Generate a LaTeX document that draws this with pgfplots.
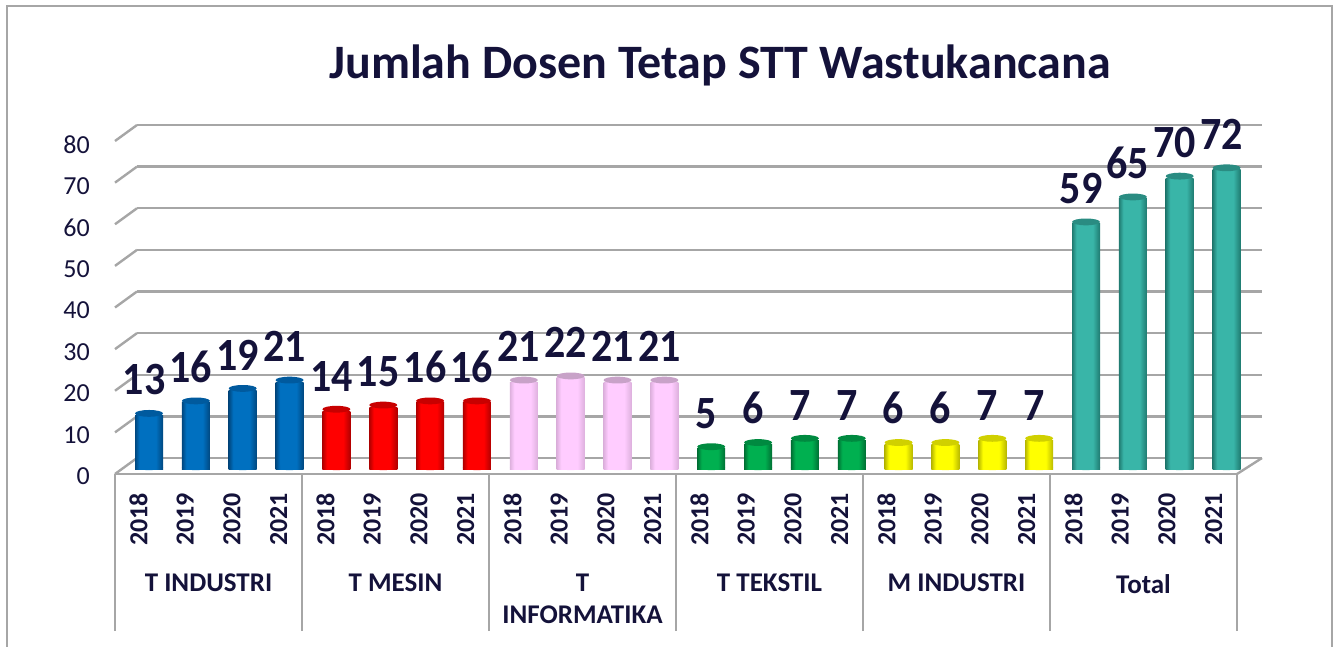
\documentclass[border=0pt]{standalone}
\usepackage{fontspec}
\setmainfont{Carlito}
\usepackage{pgfplots}
\pgfplotsset{compat=1.18}

\definecolor{ink}{HTML}{14123A}
\definecolor{wall}{HTML}{A6A6A6}

% name, edge colour, body colour, cap colour
\newcommand{\defcyl}[4]{%
  \definecolor{edge#1}{HTML}{#2}%
  \definecolor{body#1}{HTML}{#3}%
  \definecolor{cap#1}{HTML}{#4}%
  \pgfdeclarehorizontalshading{cyl#1}{100bp}{%
    color(0bp)=(edge#1); color(25bp)=(edge#1); color(33bp)=(body#1);
    color(62bp)=(body#1); color(75bp)=(edge#1); color(100bp)=(edge#1)}%
  \pgfdeclareplotmark{base#1}{\shade[draw=none,shading=cyl#1,rotate=8] (0,0) ellipse (14pt and 2.6pt);}%
  \pgfdeclareplotmark{top#1}{\fill[draw=none,fill=cap#1,rotate=8] (0,0) ellipse (14pt and 3.4pt);}%
}
\defcyl{blue}{00477F}{0070C0}{005A9E}
\defcyl{red}{B00000}{FF0000}{C80000}
\defcyl{pink}{DDB0DD}{FFCCFF}{C8A2C8}
\defcyl{green}{006E33}{00B050}{008A40}
\defcyl{yellow}{B8B800}{FFFF00}{D0D000}
\defcyl{teal}{1F7A70}{39B5A8}{2A8C82}

% colour name, x, value: one cylinder
\newcommand{\cyl}[3]{%
  \addplot[only marks,mark=base#1] coordinates {(#2,0)};
  \addplot[ybar,bar width=28pt,bar shift=0pt,draw=none,shading=cyl#1,yshift=-2pt] coordinates {(#2,#3)};
  \addplot[only marks,mark=top#1,nodes near coords={\bfseries\pgfmathprintnumber[assume math mode=true]{\pgfplotspointmeta}},
    every node near coord/.append style={font=\fontsize{42}{42}\selectfont,text=ink,anchor=south,yshift=18pt,xshift=-5pt,yscale=1.1,inner sep=0pt}]
    coordinates {(#2,#3)};
}

\begin{document}
\begin{tikzpicture}[x=1pt,y=1pt]
\path[use as bounding box] (0,0) rectangle (1333,646);

% outer frame
\draw[wall,line width=2.5pt] (7,-2) -- (7,640) -- (1332,640) -- (1332,-2);

% back wall
\begin{axis}[
  at={(137pt,188pt)},anchor=south west,
  scale only axis,width=1125pt,height=333pt,
  xmin=0,xmax=1,ymin=0,ymax=80,
  ytick={0,10,...,80},xtick=\empty,yticklabels={},
  ymajorgrids,grid style={wall,line width=2.4pt},
  axis line style={draw=none},major tick length=0pt,clip=false]
  \addplot[draw=none] coordinates {(0,0) (1,80)};
  \pgfplotsinvokeforeach{0,10,...,80}{
    \draw[wall,line width=2.4pt] (axis cs:0,#1) -- ++(-22pt,-16pt);
  }
  \draw[wall,line width=2.4pt] (axis cs:1,0) -- ++(-25pt,-16pt);
\end{axis}

% front: value labels, floor edge, year and group labels
\begin{axis}[
  at={(115pt,172pt)},anchor=south west,
  scale only axis,width=1122pt,height=332pt,
  xmin=0,xmax=24,ymin=0,ymax=80,
  ytick={0,10,...,80},
  axis y line*=left,axis x line*=bottom,
  y axis line style={draw=none},
  x axis line style={wall,line width=2.6pt,-},
  xtick={0.5,1.5,...,23.5},
  xticklabels={2018,2019,2020,2021,2018,2019,2020,2021,2018,2019,2020,2021,
    2018,2019,2020,2021,2018,2019,2020,2021,2018,2019,2020,2021},
  minor xtick={0,4,...,24},
  major tick length=0pt,minor tick length=157pt,
  xtick align=outside,
  minor tick style={wall,line width=2.4pt},
  /pgf/number format/assume math mode=true,
  /pgf/number format/1000 sep={},
  yticklabel style={font=\fontsize{26}{26}\selectfont,text=ink,xshift=-25pt,yshift=-2.5pt,inner sep=0pt,anchor=east},
  xticklabel style={font=\fontsize{26}{26}\selectfont\bfseries,text=ink,yshift=-19pt,rotate=90,anchor=east,inner sep=0pt},
  extra x ticks={2,6,10,14,18,22},
  extra x tick labels={T INDUSTRI,T MESIN,{T\\[6pt]INFORMATIKA},T TEKSTIL,M INDUSTRI,Total},
  extra x tick style={
    major tick length=0pt,
    xticklabel style={rotate=-90,anchor=north,align=center,yshift=-81pt,inner sep=0pt,
      font=\fontsize{27}{26}\selectfont\bfseries,text=ink}},
  clip=false]
  \addplot[draw=none] coordinates {(0,0) (24,80)};
\end{axis}

% bars
\begin{axis}[
  at={(125.6pt,178.5pt)},anchor=south west,
  scale only axis,width=1124.4pt,height=333pt,
  xmin=0,xmax=24,ymin=0,ymax=80,
  hide axis,clip=false]
  \cyl{blue}{0.5}{13}
  \cyl{blue}{1.5}{16}
  \cyl{blue}{2.5}{19}
  \cyl{blue}{3.5}{21}
  \cyl{red}{4.5}{14}
  \cyl{red}{5.5}{15}
  \cyl{red}{6.5}{16}
  \cyl{red}{7.5}{16}
  \cyl{pink}{8.5}{21}
  \cyl{pink}{9.5}{22}
  \cyl{pink}{10.5}{21}
  \cyl{pink}{11.5}{21}
  \cyl{green}{12.5}{5}
  \cyl{green}{13.5}{6}
  \cyl{green}{14.5}{7}
  \cyl{green}{15.5}{7}
  \cyl{yellow}{16.5}{6}
  \cyl{yellow}{17.5}{6}
  \cyl{yellow}{18.5}{7}
  \cyl{yellow}{19.5}{7}
  \cyl{teal}{20.5}{59}
  \cyl{teal}{21.5}{65}
  \cyl{teal}{22.5}{70}
  \cyl{teal}{23.5}{72}
\end{axis}

\node[text=ink,font=\fontsize{48}{48}\selectfont\bfseries,inner sep=0pt] at (720,581) {Jumlah Dosen Tetap STT Wastukancana};
\end{tikzpicture}
\end{document}
